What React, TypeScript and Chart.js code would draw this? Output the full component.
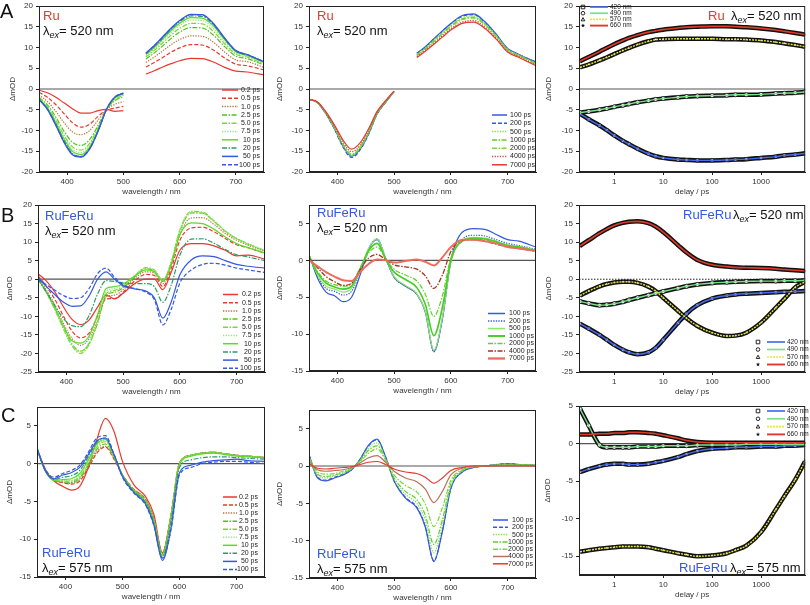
import React, { useEffect, useRef } from 'react';
import { Chart, registerables } from 'chart.js';
Chart.register(...registerables);

const FONT = '"Liberation Sans", Arial, sans-serif';

// ---------- shared axes ----------
const WL = [350, 365, 380, 395, 410, 425, 440, 455, 470, 485, 500, 520, 540, 555, 570, 585, 600, 620, 640, 660, 680, 700, 720, 750];
const DELAYS = [0.2, 0.3, 0.5, 0.7, 1, 1.5, 2, 3, 5, 7, 10, 20, 30, 50, 100, 200, 300, 500, 1000, 2000, 3000, 5000, 7900];
const WL_TICKS = [400, 500, 600, 700];
const DELAY_TICKS = [1, 10, 100, 1000];
const Y_TICKS_20 = [-20, -15, -10, -5, 0, 5, 10, 15, 20];
const Y_TICKS_25 = [-25, -20, -15, -10, -5, 0, 5, 10, 15, 20];
const Y_TICKS_15 = [-15, -10, -5, 0, 5];
const EARLY_LABELS = ['0.2 ps', '0.5 ps', '1.0 ps', '2.5 ps', '5.0 ps', '7.5 ps', '10 ps', '20 ps', '50 ps', '100 ps'];
const LATE_LABELS = ['100 ps', '200 ps', '500 ps', '1000 ps', '2000 ps', '4000 ps', '7000 ps'];
const KIN_LABELS = ['420 nm', '490 nm', '570 nm', '660 nm'];

// ---------- A1: Ru, early times ----------
const A1_0p2 = [-0.3, -0.9, -2, -3.4, -4.8, -5.8, -5.8, -5.2, -4.9, -5.4, -5.2, null, 3.6, 4.4, 5.3, 6.1, 6.8, 7.4, 7.3, 6.5, 5.2, 4.3, 4.1, 3.4];
const A1_0p5 = [-0.8, -2, -3.8, -6, -8.2, -9.2, -8.5, -6.6, -5.1, -4.6, -4.2, null, 5.3, 6.4, 7.6, 8.9, 9.9, 10.7, 10.6, 9.4, 7.5, 6, 5.6, 4.6];
const A1_1p0 = [-1.4, -3, -5.4, -8.2, -10.4, -11, -10, -7.5, -5, -3.7, -3, null, 6.4, 7.7, 9.2, 10.7, 11.9, 12.8, 12.7, 11.3, 8.9, 7, 6.6, 5.2];
const A1_2p5 = [-2, -3.8, -6.8, -10.3, -12.9, -13.6, -12.2, -8.8, -5, -2.8, -1.8, null, 7.2, 8.7, 10.4, 12.2, 13.7, 14.8, 14.7, 13, 10.2, 7.9, 7.3, 5.8];
const A1_5p0 = [-2.2, -4.2, -7.5, -11.3, -14, -14.7, -13.1, -9.3, -5, -2.5, -1.5, null, 7.7, 9.3, 11.1, 13, 14.6, 15.8, 15.7, 13.9, 10.9, 8.4, 7.7, 6];
const A1_7p5 = [-2.3, -4.4, -7.9, -11.8, -14.6, -15.3, -13.6, -9.6, -5, -2.3, -1.3, null, 8, 9.7, 11.6, 13.6, 15.3, 16.6, 16.5, 14.6, 11.4, 8.7, 8, 6.2];
const A1_10 = [-2.4, -4.6, -8.2, -12.2, -15.1, -15.8, -14, -9.9, -5, -2.1, -1.2, null, 8.3, 10, 12, 14.1, 15.8, 17.2, 17.1, 15.2, 11.9, 9, 8.1, 6.4];
const A1_20 = [-2.5, -4.8, -8.5, -12.6, -15.6, -16.2, -14.3, -10.1, -5, -2, -1.1, null, 8.5, 10.3, 12.3, 14.4, 16.2, 17.6, 17.5, 15.5, 12.1, 9.1, 8.2, 6.5];
const A1_50 = [-2.5, -4.9, -8.8, -13, -15.9, -16.4, -14.5, -10.2, -4.9, -1.9, -1, null, 8.7, 10.5, 12.6, 14.7, 16.5, 18, 17.9, 15.8, 12.3, 9.3, 8.3, 6.6];
const A1_100 = [-2.5, -4.9, -8.7, -12.9, -15.8, -16.3, -14.4, -10.1, -4.9, -1.9, -1, null, 8.6, 10.4, 12.5, 14.6, 16.4, 17.9, 17.8, 15.7, 12.2, 9.2, 8.3, 6.6];

// ---------- A2: Ru, late times ----------
const A2_100 = [-2.5, -3.3, -6, -9.6, -13.8, -16.2, -14.5, -10.8, -6, -3.2, -0.6, null, 8.6, 10.2, 12.1, 14, 15.8, 17.7, 18.1, 16.2, 13.2, 9.8, 8.3, 6.5];
const A2_200 = [-2.5, -3.3, -6, -9.7, -14, -16.5, -14.7, -10.9, -6, -3.2, -0.6, null, 8.6, 10.1, 12, 13.9, 15.7, 17.5, 17.9, 16, 13, 9.7, 8.3, 6.4];
const A2_500 = [-2.5, -3.3, -5.9, -9.5, -13.6, -16, -14.3, -10.6, -5.9, -3.1, -0.6, null, 8.4, 9.9, 11.8, 13.6, 15.4, 17.2, 17.6, 15.8, 12.9, 9.6, 8.2, 6.3];
const A2_1000 = [-2.5, -3.3, -5.9, -9.4, -13.5, -15.9, -14.2, -10.5, -5.8, -3.1, -0.6, null, 8.2, 9.7, 11.6, 13.4, 15.2, 16.9, 17.3, 15.6, 12.7, 9.5, 8.1, 6.2];
const A2_2000 = [-2.5, -3.2, -5.8, -9.3, -13.3, -15.7, -14, -10.4, -5.8, -3, -0.6, null, 8.1, 9.6, 11.4, 13.2, 15, 16.7, 17.1, 15.4, 12.6, 9.4, 8, 6.1];
const A2_4000 = [-2.5, -3.2, -5.7, -9, -12.8, -15.1, -13.6, -10, -5.6, -2.9, -0.5, null, 7.8, 9.3, 11, 12.8, 14.5, 16.1, 16.5, 14.9, 12.2, 9.1, 7.8, 5.8];
const A2_7000 = [-2.5, -3.1, -5.5, -8.7, -12.3, -14.5, -13, -9.6, -5.4, -2.8, -0.5, null, 7.6, 9.1, 10.8, 12.5, 14.2, 15.8, 16.1, 14.6, 12, 8.9, 7.6, 5.6];

// ---------- A3: Ru kinetics ----------
const A3_420 = [-6, -7.3, -8.8, -9.9, -11.2, -12.5, -13.3, -14.4, -15.6, -16.2, -16.6, -17, -17.1, -17.2, -17.2, -17.1, -17, -16.9, -16.6, -16.3, -16, -15.8, -15.5];
const A3_490 = [-5.7, -5.4, -5, -4.7, -4.3, -3.9, -3.6, -3.2, -2.8, -2.5, -2.3, -2, -1.8, -1.7, -1.6, -1.5, -1.4, -1.4, -1.3, -1.1, -1, -0.9, -0.7];
const A3_570 = [5.2, 5.9, 6.9, 7.6, 8.4, 9.3, 9.9, 10.7, 11.5, 11.9, 12, 12.1, 12.1, 12.1, 12.1, 12, 12, 11.9, 11.7, 11.3, 11, 10.6, 10.2];
const A3_660 = [6.7, 7.7, 9, 9.9, 10.8, 11.7, 12.3, 13, 13.7, 14, 14.3, 14.7, 14.9, 15, 15.1, 15.1, 15, 14.9, 14.6, 14.2, 13.9, 13.5, 13.1];

// ---------- B1: RuFeRu 520 nm, early ----------
const B1_0p2 = [1.5, -0.5, -3.5, -7.5, -10.8, -12.2, -11, -7.5, -4.3, -5.3, -3.8, -1.2, 0, 0, -2.8, 2, 7.8, 9.6, 9.6, 9, 7.8, 6.3, 6.5, 5.4];
const B1_0p5 = [1, -2, -5.5, -10, -14, -15.8, -14.5, -10, -5.3, -5.2, -3.5, -0.5, 1.3, 1, -2, 3, 10.5, 13.8, 14, 12.8, 11, 9.3, 8.5, 7];
const B1_1p0 = [0.5, -3, -7, -12, -16, -17.8, -16, -11, -4.8, -4.3, -2.8, 0.2, 2, 1.6, -1.2, 4, 12, 16.5, 16.6, 14.8, 12.3, 10.5, 9.2, 7.5];
const B1_2p5 = [0.3, -3.5, -8, -13, -17.5, -19.4, -17.3, -11.8, -4.3, -3.5, -2.3, 0.6, 2.8, 2.2, -0.6, 4.6, 13, 17.9, 17.8, 15.6, 12.9, 10.9, 9.5, 7.6];
const B1_5p0 = [0.2, -3.7, -8.3, -13.5, -18, -20, -17.6, -11.6, -3.9, -3, -1.9, 0.9, 3.1, 2.5, -0.3, 4.8, 13.3, 18.3, 18.1, 15.8, 13, 11, 9.6, 7.7];
const B1_7p5 = [0.2, -3.6, -8.1, -13.2, -17.6, -19.5, -17, -11, -3.3, -2.5, -1.5, 1, 3, 2.4, -0.2, 4.6, 13, 18, 17.8, 15.6, 12.9, 10.9, 9.5, 7.7];
const B1_10 = [0.1, -3.5, -7.8, -12.6, -16.6, -17.2, -15.3, -9.5, -2.5, -2, -1.3, 0.8, 2.5, 2, -0.5, 4, 12, 15.2, 15, 13.5, 11.4, 9.6, 8.5, 7];
const B1_20 = [0, -3.5, -7.2, -10.6, -12.5, -12.8, -9.8, -4, -0.4, -0.6, -1, -1.2, -1.2, -2, -6.2, -1.5, 6.5, 10.8, 10.9, 9.7, 8, 6.6, 6, 5];
const B1_50 = [0.5, -2, -4.2, -6.2, -7.3, -7.2, -4.5, 0, 2, 0, -1.8, -2.6, -3.2, -5, -10.5, -6, 1.2, 5.2, 6.3, 6.1, 5, 4, 3.5, 3];
const B1_100 = [0, -1.5, -3, -4.4, -5.2, -5, -2.5, 1.5, 3, 0.5, -1.5, -2.5, -3.5, -5.5, -12.3, -8, -1, 2.5, 4, 4.3, 3.8, 3, 2.5, 1.8];

// ---------- B2: RuFeRu 520 nm, late ----------
const B2_100 = [0.8, -2.4, -4.3, -4.8, -5.6, -5, -2, 1.5, 2.8, 0.3, -2.3, -3.5, -4.6, -7, -12.3, -8, 0, 3.8, 4.3, 4.2, 3.5, 2.8, 2.6, 1.8];
const B2_200 = [0.8, -2.2, -3.8, -4.2, -4.7, -4.2, -1.6, 1.6, 2.9, 0.3, -2.3, -3.5, -4.6, -7, -12.4, -7.9, -0.2, 2.8, 3.4, 3.3, 2.8, 2.3, 2, 1.5];
const B2_500 = [0.8, -2, -3.5, -3.9, -4.3, -3.8, -1.4, 1.6, 2.9, 0.3, -2.2, -3.4, -4.5, -6.9, -12.2, -7.8, -0.2, 2.7, 3.1, 3, 2.6, 2.1, 1.9, 1.4];
const B2_1000 = [0.6, -1.7, -3.1, -3.6, -3.9, -3.5, -1.2, 1.3, 2.3, 0.2, -1.6, -2.6, -3.7, -6, -10.2, -6.4, 0, 2.6, 3, 2.9, 2.5, 2, 1.8, 1.3];
const B2_2000 = [0.5, -1.5, -2.8, -3.3, -3.5, -3.2, -1, 1, 1.8, 0.2, -1.2, -2, -2.8, -4.6, -7.6, -4.8, 0.3, 2.6, 2.9, 2.8, 2.4, 1.9, 1.7, 1.3];
const B2_4000 = [0.3, -1, -2.2, -2.9, -3.4, -3.1, -1.3, 0.3, 0.8, 0.1, -0.6, -0.9, -1.2, -2.1, -3.8, -2, 1.2, 2.7, 2.8, 2.6, 2.2, 1.8, 1.6, 1.2];
const B2_7000 = [0, -0.8, -1.6, -2.2, -2.7, -2.8, -1.6, -0.5, 0.1, 0, -0.3, -0.1, 0.1, -0.2, -0.7, 0.4, 1.8, 2.8, 2.8, 2.6, 2.3, 1.8, 1.6, 1.3];

// ---------- B3: RuFeRu 520 nm kinetics ----------
const B3_420 = [-12, -13.3, -15, -16.3, -17.7, -19, -19.7, -20.2, -19.7, -18.5, -16.3, -11.8, -9.3, -7, -5.2, -4.4, -4.1, -3.9, -3.7, -3.5, -3.4, -3.3, -3.2];
const B3_490 = [-6, -6.5, -7, -6.9, -6.6, -6.1, -5.6, -5, -4.3, -3.8, -3.3, -2.4, -1.9, -1.4, -1, -0.8, -0.7, -0.6, -0.5, -0.5, -0.4, -0.4, -0.3];
const B3_570 = [-4.4, -3.2, -1.9, -1.3, -0.9, -0.7, -0.7, -1, -2, -3.2, -5, -8.5, -10.5, -12.6, -14.4, -15.3, -15.2, -14.4, -11.7, -7.7, -5.3, -2.2, -0.7];
const B3_660 = [9, 10.5, 12.4, 13.5, 14.5, 15.2, 15.5, 15.6, 15.1, 14.2, 12.7, 9.2, 7.2, 5.2, 3.9, 3.4, 3.2, 3.1, 3, 2.8, 2.6, 2.4, 2.2];

// ---------- C1: RuFeRu 575 nm, early ----------
const C1_0p2 = [2, -0.8, -2.3, -3, -3.5, -3, -0.5, 3.2, 6, 4.3, 0.3, -2.8, -4.3, -6.7, -11.8, -7, 0, 1.1, 1.4, 1.5, 1.3, 1.1, 1, 0.8];
const C1_0p5 = [2, -1, -2.2, -2.5, -2.7, -2.3, -0.6, 1.4, 2.2, 0.6, -1.5, -3.4, -4.7, -7.3, -11.8, -6.8, 0.1, 1.1, 1.4, 1.5, 1.3, 1.1, 1, 0.8];
const C1_1p0 = [2, -1, -2.2, -2.5, -2.6, -2.1, -0.4, 1.6, 2.3, 0.7, -1.5, -3.4, -4.7, -7.3, -11.9, -6.9, 0.1, 1.1, 1.4, 1.5, 1.3, 1.1, 1, 0.8];
const C1_2p5 = [2, -1, -2.2, -2.4, -2.5, -1.9, -0.2, 1.9, 2.6, 0.8, -1.5, -3.5, -4.8, -7.4, -12, -7, 0, 1.1, 1.4, 1.5, 1.3, 1.1, 1, 0.8];
const C1_5p0 = [2, -1, -2.2, -2.3, -2.3, -1.7, 0.1, 2.2, 2.9, 1, -1.5, -3.5, -4.9, -7.5, -12, -7.1, 0, 1.1, 1.4, 1.5, 1.3, 1.1, 1, 0.8];
const C1_7p5 = [2, -1, -2.2, -2.2, -2.2, -1.5, 0.3, 2.4, 3.1, 1.1, -1.5, -3.6, -5, -7.6, -12.1, -7.2, 0, 1.1, 1.4, 1.4, 1.3, 1.1, 1, 0.8];
const C1_10 = [2, -1, -2.2, -2.1, -2, -1.3, 0.5, 2.6, 3.2, 1.1, -1.5, -3.6, -5, -7.7, -12.2, -7.3, -0.1, 1, 1.3, 1.4, 1.2, 1, 0.9, 0.8];
const C1_20 = [2, -1, -2.1, -1.8, -1.6, -0.9, 0.9, 2.8, 3.4, 1.2, -1.6, -3.7, -5.1, -7.8, -12.4, -7.8, -0.5, 0.5, 0.8, 0.9, 0.9, 0.8, 0.7, 0.6];
const C1_50 = [2, -1, -2, -1.5, -1.2, -0.5, 1.2, 3, 3.4, 1.2, -1.7, -3.8, -5.3, -8.1, -12.8, -8.6, -1.2, -0.2, 0.2, 0.4, 0.5, 0.6, 0.4, 0.3];
const C1_100 = [2, -0.8, -1.8, -1.3, -0.9, -0.2, 1.5, 3.4, 3.7, 1.3, -1.8, -3.9, -5.4, -8.2, -12.5, -8.8, -1.5, -0.5, 0, 0.2, 0.3, 0.3, 0.2, 0];

// ---------- C2: RuFeRu 575 nm, late ----------
const C2_100 = [1.5, -1.6, -2, -1.6, -1.2, -0.5, 0.9, 2.8, 3.6, 1.2, -2, -4.3, -5.6, -8.2, -12.8, -8.8, -3, -0.8, -0.2, 0, 0.2, 0.3, 0.2, 0.1];
const C2_200 = [1.5, -1.5, -1.9, -1.5, -1.1, -0.5, 0.9, 2.7, 3.5, 1.2, -2, -4.2, -5.5, -8.1, -12.7, -8.7, -3, -0.8, -0.2, 0, 0.2, 0.3, 0.2, 0.1];
const C2_500 = [1.3, -1.3, -1.6, -1.3, -1, -0.4, 0.8, 2.4, 3.1, 1, -1.8, -3.8, -5, -7.3, -11.6, -7.9, -2.7, -0.7, -0.1, 0, 0.2, 0.2, 0.2, 0.1];
const C2_1000 = [1.2, -1.1, -1.4, -1.2, -0.9, -0.4, 0.7, 2.1, 2.7, 0.9, -1.6, -3.4, -4.5, -6.6, -10.5, -7.2, -2.4, -0.6, -0.1, 0, 0.1, 0.2, 0.2, 0.1];
const C2_2000 = [1, -0.8, -1.1, -1, -0.7, -0.3, 0.6, 1.7, 2.3, 0.8, -1.2, -2.6, -3.5, -5.1, -8.1, -5.6, -1.9, -0.5, -0.1, 0, 0.1, 0.1, 0.1, 0.1];
const C2_4000 = [0.6, -0.5, -0.7, -0.6, -0.5, -0.2, 0.4, 1.1, 1.4, 0.5, -0.7, -1.6, -2.1, -3.1, -4.9, -3.4, -1.2, -0.3, 0, 0, 0.1, 0.1, 0.1, 0];
const C2_7000 = [0.3, -0.3, -0.4, -0.3, -0.2, -0.1, 0.2, 0.5, 0.6, 0.2, -0.4, -0.8, -1, -1.5, -2.3, -1.6, -0.6, -0.2, 0, 0, 0, 0, 0, 0];

// ---------- C3: RuFeRu 575 nm kinetics ----------
const C3_420 = [-3.8, -3.4, -3, -2.8, -2.7, -2.7, -2.8, -2.8, -2.7, -2.5, -2.3, -1.8, -1.4, -1, -0.7, -0.6, -0.5, -0.5, -0.4, -0.4, -0.3, -0.3, -0.2];
const C3_490 = [4.6, 2.4, -0.2, -0.5, -0.5, -0.5, -0.5, -0.4, -0.4, -0.4, -0.3, -0.3, -0.3, -0.2, -0.2, -0.2, -0.2, -0.1, -0.1, -0.1, -0.1, -0.1, -0.1];
const C3_570 = [-14.4, -14.2, -14, -13.9, -13.8, -13.7, -13.7, -13.7, -13.8, -14, -14.2, -14.6, -14.8, -15, -14.9, -14.6, -14.2, -13.6, -11.8, -8.8, -7, -4.8, -2.4];
const C3_660 = [1.2, 1.2, 1.3, 1.3, 1.4, 1.4, 1.5, 1.5, 1.4, 1.3, 1.1, 0.7, 0.4, 0.2, 0.1, 0.1, 0.1, 0.1, 0.1, 0.1, 0.1, 0.1, 0.1];

// ---------- styles ----------
type Sty = { color: string; dash: number[]; width: number };
const SOLID: number[] = [];
const DASH = [4, 2];
const DOT = [1.3, 1.3];
const DASHDOT = [5, 1.5, 1.5, 1.5];
const RED = '#e8392f';
const BROWN = '#b8733a';
const BLUE = '#3458e0';
const TEAL = '#2e9a6a';
const EARLY_STY: Sty[] = [
  { color: RED, dash: SOLID, width: 1.2 },
  { color: RED, dash: DASH, width: 1.2 },
  { color: BROWN, dash: DOT, width: 1.2 },
  { color: '#52c020', dash: DASHDOT, width: 1.2 },
  { color: '#7ad63a', dash: DASHDOT, width: 1.2 },
  { color: '#9be870', dash: DOT, width: 1.2 },
  { color: '#5fd82c', dash: SOLID, width: 1.2 },
  { color: TEAL, dash: DASHDOT, width: 1.2 },
  { color: BLUE, dash: SOLID, width: 1.2 },
  { color: BLUE, dash: DASH, width: 1.2 },
];
const LATE_STY_A: Sty[] = [
  { color: BLUE, dash: SOLID, width: 1.2 },
  { color: BLUE, dash: DASH, width: 1.2 },
  { color: '#7fe04a', dash: DOT, width: 1.2 },
  { color: '#5fd02a', dash: DASHDOT, width: 1.2 },
  { color: '#78d83a', dash: DASHDOT, width: 1.2 },
  { color: '#c8584a', dash: DOT, width: 1.4 },
  { color: RED, dash: SOLID, width: 1.2 },
];
const LATE_STY_B: Sty[] = [
  { color: BLUE, dash: SOLID, width: 1.2 },
  { color: BLUE, dash: DOT, width: 1.2 },
  { color: '#90e46a', dash: SOLID, width: 1.2 },
  { color: '#44cc22', dash: SOLID, width: 1.6 },
  { color: '#5fd02a', dash: DASHDOT, width: 1.2 },
  { color: '#a8321e', dash: DASHDOT, width: 1.3 },
  { color: '#ee6b5e', dash: SOLID, width: 2 },
];
const LATE_STY_C: Sty[] = [
  { color: BLUE, dash: SOLID, width: 1.2 },
  { color: BLUE, dash: DASH, width: 1.2 },
  { color: '#7fe04a', dash: DOT, width: 1.2 },
  { color: '#5fd02a', dash: DASHDOT, width: 1.2 },
  { color: '#78d83a', dash: DASHDOT, width: 1.2 },
  { color: '#b9705a', dash: SOLID, width: 1.2 },
  { color: RED, dash: SOLID, width: 1.2 },
];
const KIN_STY: Sty[] = [
  { color: '#4a6cf0', dash: SOLID, width: 1.4 },
  { color: '#7be08a', dash: SOLID, width: 1.4 },
  { color: '#e8e83a', dash: [2, 1], width: 1.4 },
  { color: '#e03a2a', dash: SOLID, width: 1.6 },
];
const KIN_MARKERS = ['rect', 'circle', 'triangle', 'star'];

// ---------- panel layout ----------
type Rect = { l: number; t: number; r: number; b: number };
interface LegendCfg { x1: number; x2: number; tx: number; align: 'left' | 'right'; y0: number; dy: number; size: number; sym?: number }
interface Panel {
  kind: 'spec' | 'kin';
  col: number;
  plot: Rect;
  yMin: number; yMax: number; yTicks: number[];
  yTitleX: number;
  series: (number | null)[][];
  labels: string[];
  styles: Sty[];
  zero: { color: string; dash: number[]; width: number };
  legend: LegendCfg;
  name: { text: string; color: string; x: number; y: number };
  lambda: { text: string; x: number; y: number };
  letter?: { text: string; x: number; y: number };
}
const ZERO_GRAY = { color: '#555', dash: [] as number[], width: 1.2 };

const PANELS: Panel[] = [
  {
    kind: 'spec', col: 0, plot: { l: 39, t: 6, r: 264, b: 172 }, yMin: -20, yMax: 20, yTicks: Y_TICKS_20, yTitleX: 13,
    series: [A1_0p2, A1_0p5, A1_1p0, A1_2p5, A1_5p0, A1_7p5, A1_10, A1_20, A1_50, A1_100], labels: EARLY_LABELS, styles: EARLY_STY,
    zero: ZERO_GRAY, legend: { x1: 222, x2: 238, tx: 260, align: 'right', y0: 90, dy: 8.3, size: 7 },
    name: { text: 'Ru', color: RED, x: 43, y: 20 }, lambda: { text: '= 520 nm', x: 43, y: 35 }, letter: { text: 'A', x: 0, y: 18 },
  },
  {
    kind: 'spec', col: 1, plot: { l: 309, t: 6, r: 536, b: 172 }, yMin: -20, yMax: 20, yTicks: Y_TICKS_20, yTitleX: 280,
    series: [A2_100, A2_200, A2_500, A2_1000, A2_2000, A2_4000, A2_7000], labels: LATE_LABELS, styles: LATE_STY_A,
    zero: ZERO_GRAY, legend: { x1: 492, x2: 507, tx: 510, align: 'left', y0: 115, dy: 8.3, size: 7 },
    name: { text: 'Ru', color: RED, x: 317, y: 20 }, lambda: { text: '= 520 nm', x: 317, y: 35 },
  },
  {
    kind: 'kin', col: 2, plot: { l: 579, t: 6, r: 806, b: 172 }, yMin: -20, yMax: 20, yTicks: Y_TICKS_20, yTitleX: 549,
    series: [A3_420, A3_490, A3_570, A3_660], labels: KIN_LABELS, styles: KIN_STY,
    zero: ZERO_GRAY, legend: { x1: 590, x2: 608, tx: 610, align: 'left', y0: 7, dy: 6.2, size: 6.5, sym: 583 },
    name: { text: 'Ru', color: RED, x: 708, y: 20 }, lambda: { text: '= 520 nm', x: 731, y: 20 },
  },
  {
    kind: 'spec', col: 0, plot: { l: 38, t: 205, r: 265, b: 372 }, yMin: -25, yMax: 20, yTicks: Y_TICKS_25, yTitleX: 10,
    series: [B1_0p2, B1_0p5, B1_1p0, B1_2p5, B1_5p0, B1_7p5, B1_10, B1_20, B1_50, B1_100], labels: EARLY_LABELS, styles: EARLY_STY,
    zero: ZERO_GRAY, legend: { x1: 223, x2: 238, tx: 261, align: 'right', y0: 294.5, dy: 8.2, size: 7 },
    name: { text: 'RuFeRu', color: BLUE, x: 45, y: 220 }, lambda: { text: '= 520 nm', x: 45, y: 235 }, letter: { text: 'B', x: 1, y: 222 },
  },
  {
    kind: 'spec', col: 1, plot: { l: 309, t: 205, r: 536, b: 371 }, yMin: -15, yMax: 7.5, yTicks: Y_TICKS_15, yTitleX: 280,
    series: [B2_100, B2_200, B2_500, B2_1000, B2_2000, B2_4000, B2_7000], labels: LATE_LABELS, styles: LATE_STY_B,
    zero: ZERO_GRAY, legend: { x1: 488, x2: 505, tx: 509, align: 'left', y0: 313.5, dy: 7.5, size: 7 },
    name: { text: 'RuFeRu', color: BLUE, x: 317, y: 217 }, lambda: { text: '= 520 nm', x: 317, y: 232 },
  },
  {
    kind: 'kin', col: 2, plot: { l: 579, t: 205, r: 806, b: 372 }, yMin: -25, yMax: 20, yTicks: Y_TICKS_25, yTitleX: 549,
    series: [B3_420, B3_490, B3_570, B3_660], labels: KIN_LABELS, styles: KIN_STY,
    zero: { color: '#222', dash: [1.5, 1.5], width: 1 }, legend: { x1: 767, x2: 785, tx: 787, align: 'left', y0: 342, dy: 7.5, size: 6.5, sym: 758 },
    name: { text: 'RuFeRu', color: BLUE, x: 683, y: 219 }, lambda: { text: '= 520 nm', x: 733, y: 219 },
  },
  {
    kind: 'spec', col: 0, plot: { l: 37, t: 407, r: 265, b: 577 }, yMin: -15, yMax: 7.5, yTicks: Y_TICKS_15, yTitleX: 10,
    series: [C1_0p2, C1_0p5, C1_1p0, C1_2p5, C1_5p0, C1_7p5, C1_10, C1_20, C1_50, C1_100], labels: EARLY_LABELS, styles: EARLY_STY,
    zero: ZERO_GRAY, legend: { x1: 223, x2: 237, tx: 258, align: 'right', y0: 497, dy: 8.05, size: 7 },
    name: { text: 'RuFeRu', color: BLUE, x: 42, y: 557 }, lambda: { text: '= 575 nm', x: 42, y: 572 }, letter: { text: 'C', x: 1, y: 422 },
  },
  {
    kind: 'spec', col: 1, plot: { l: 309, t: 410, r: 536, b: 578 }, yMin: -15, yMax: 7.5, yTicks: Y_TICKS_15, yTitleX: 280,
    series: [C2_100, C2_200, C2_500, C2_1000, C2_2000, C2_4000, C2_7000], labels: LATE_LABELS, styles: LATE_STY_C,
    zero: ZERO_GRAY, legend: { x1: 493, x2: 508, tx: 533, align: 'right', y0: 520, dy: 7.3, size: 7 },
    name: { text: 'RuFeRu', color: BLUE, x: 317, y: 558 }, lambda: { text: '= 575 nm', x: 317, y: 573 },
  },
  {
    kind: 'kin', col: 2, plot: { l: 579, t: 406, r: 806, b: 575 }, yMin: -17.5, yMax: 5, yTicks: Y_TICKS_15, yTitleX: 548,
    series: [C3_420, C3_490, C3_570, C3_660], labels: KIN_LABELS, styles: KIN_STY,
    zero: ZERO_GRAY, legend: { x1: 767, x2: 785, tx: 787, align: 'left', y0: 411, dy: 7.8, size: 6.5, sym: 758 },
    name: { text: 'RuFeRu', color: BLUE, x: 679, y: 572 }, lambda: { text: '= 575 nm', x: 730, y: 572 },
  },
];

const PAD_TOP = 10;
const PAD_R = 4;
const X_AXIS_H = 28;

function canvasRect(p: Panel) {
  const left = p.col * 270;
  const top = p.plot.t - PAD_TOP;
  return { left, top, width: p.plot.r + PAD_R - left, height: p.plot.b + X_AXIS_H - top };
}

function drawMarker(ctx: CanvasRenderingContext2D, kind: string, x: number, y: number, r: number) {
  ctx.beginPath();
  if (kind === 'rect') ctx.rect(x - r, y - r, 2 * r, 2 * r);
  else if (kind === 'circle') ctx.arc(x, y, r, 0, Math.PI * 2);
  else if (kind === 'triangle') { ctx.moveTo(x, y - r); ctx.lineTo(x + r, y + r * 0.8); ctx.lineTo(x - r, y + r * 0.8); ctx.closePath(); }
  else {
    for (let k = 0; k < 10; k++) {
      const a = -Math.PI / 2 + (k * Math.PI) / 5;
      const rr = k % 2 === 0 ? r * 1.2 : r * 0.5;
      if (k === 0) ctx.moveTo(x + rr * Math.cos(a), y + rr * Math.sin(a)); else ctx.lineTo(x + rr * Math.cos(a), y + rr * Math.sin(a));
    }
    ctx.closePath();
    ctx.fillStyle = '#111'; ctx.fill(); return;
  }
  ctx.stroke();
}

function makeDeco(p: Panel, ox: number, oy: number) {
  return {
    id: 'deco',
    beforeDatasetsDraw(chart: any) {
      const { ctx, chartArea: a, scales } = chart;
      const y0 = scales.y.getPixelForValue(0);
      ctx.save();
      ctx.strokeStyle = p.zero.color; ctx.lineWidth = p.zero.width; ctx.setLineDash(p.zero.dash);
      ctx.beginPath(); ctx.moveTo(a.left, y0); ctx.lineTo(a.right, y0); ctx.stroke();
      ctx.restore();
    },
    afterDatasetsDraw(chart: any) {
      const { ctx, chartArea: a } = chart;
      ctx.save();
      ctx.strokeStyle = '#222'; ctx.lineWidth = 1; ctx.setLineDash([]);
      ctx.strokeRect(a.left + 0.5, a.top + 0.5, a.right - a.left - 1, a.bottom - a.top - 1);
      // legend
      const lg = p.legend;
      p.labels.forEach((lab, i) => {
        const y = lg.y0 + i * lg.dy - oy;
        const s = p.styles[i];
        ctx.strokeStyle = s.color; ctx.lineWidth = s.width + 0.3; ctx.setLineDash(s.dash);
        ctx.beginPath(); ctx.moveTo(lg.x1 - ox, y); ctx.lineTo(lg.x2 - ox, y); ctx.stroke();
        ctx.setLineDash([]);
        if (lg.sym !== undefined) {
          ctx.strokeStyle = '#111'; ctx.lineWidth = 0.9;
          drawMarker(ctx, KIN_MARKERS[i], lg.sym - ox, y, 1.8);
        }
        ctx.fillStyle = '#222'; ctx.font = `${lg.size}px ${FONT}`; ctx.textAlign = lg.align; ctx.textBaseline = 'middle';
        ctx.fillText(lab, lg.tx - ox, y);
      });
      // titles
      ctx.textAlign = 'left'; ctx.textBaseline = 'alphabetic';
      ctx.fillStyle = p.name.color; ctx.font = `13px ${FONT}`;
      ctx.fillText(p.name.text, p.name.x - ox, p.name.y - oy);
      const lx = p.lambda.x - ox, ly = p.lambda.y - oy;
      ctx.fillStyle = '#111'; ctx.font = `13px ${FONT}`;
      ctx.fillText('λ', lx, ly);
      let w = ctx.measureText('λ').width;
      ctx.font = `italic 9px ${FONT}`;
      ctx.fillText('ex', lx + w, ly + 2.5);
      w += ctx.measureText('ex').width;
      ctx.font = `13px ${FONT}`;
      ctx.fillText(p.lambda.text, lx + w, ly);
      if (p.letter) {
        ctx.font = `20px ${FONT}`; ctx.fillStyle = '#111';
        ctx.fillText(p.letter.text, p.letter.x - ox, p.letter.y - oy);
      }
      ctx.restore();
    },
  };
}

function buildConfig(p: Panel, cr: { left: number; top: number; width: number; height: number }): any {
  const kin = p.kind === 'kin';
  const xs = kin ? DELAYS : WL;
  const datasets: any[] = [];
  p.series.forEach((arr, i) => {
    const pts = xs.map((x, j) => ({ x, y: arr[j] }));
    const s = p.styles[i];
    if (kin) {
      datasets.push({
        data: pts, borderColor: '#111', borderWidth: 4.5, pointRadius: 2, pointStyle: KIN_MARKERS[i],
        pointBackgroundColor: '#fff', pointBorderColor: '#111', pointBorderWidth: 0.8,
        cubicInterpolationMode: 'monotone', order: 10,
      });
      datasets.push({
        data: pts, borderColor: s.color, borderDash: s.dash, borderWidth: s.width, pointRadius: 0,
        cubicInterpolationMode: 'monotone', order: -i,
      });
    } else {
      datasets.push({
        data: pts, borderColor: s.color, borderDash: s.dash, borderWidth: s.width, pointRadius: 0,
        cubicInterpolationMode: 'monotone', spanGaps: false, order: -i,
      });
    }
  });
  const yW = p.plot.l - cr.left;
  const tickFont = { family: FONT, size: 8 };
  const titleFont = { family: FONT, size: 8 };
  return {
    type: 'line',
    data: { datasets },
    options: {
      animation: false, responsive: false, maintainAspectRatio: false, devicePixelRatio: 1,
      layout: { padding: { top: PAD_TOP, right: PAD_R, left: 0, bottom: 0 } },
      plugins: { legend: { display: false }, tooltip: { enabled: false } },
      scales: {
        x: {
          type: kin ? 'logarithmic' : 'linear',
          min: kin ? 0.19 : 350, max: kin ? 8000 : 750,
          afterBuildTicks: (sc: any) => { sc.ticks = (kin ? DELAY_TICKS : WL_TICKS).map((v) => ({ value: v })); },
          afterFit: (sc: any) => { sc.height = X_AXIS_H; },
          grid: { drawOnChartArea: false, drawTicks: true, tickLength: 3, color: '#222' },
          border: { display: true, color: '#222' },
          ticks: { font: tickFont, color: '#333', padding: 2, maxRotation: 0, autoSkip: false, callback: (v: any) => String(v) },
          title: { display: true, text: kin ? 'delay / ps' : 'wavelength / nm', font: titleFont, color: '#333', padding: { top: 0, bottom: 3 } },
        },
        y: {
          type: 'linear', min: p.yMin, max: p.yMax,
          afterBuildTicks: (sc: any) => { sc.ticks = p.yTicks.map((v) => ({ value: v })); },
          afterFit: (sc: any) => { sc.width = yW; },
          grid: { drawOnChartArea: false, drawTicks: true, tickLength: 3, color: '#222' },
          border: { display: true, color: '#222' },
          ticks: { font: tickFont, color: '#333', padding: 3, callback: (v: any) => String(v) },
          title: { display: true, text: 'ΔmOD', font: titleFont, color: '#333', padding: { top: Math.max(0, p.yTitleX - cr.left - 4.8), bottom: 0 } },
        },
      },
    },
    plugins: [makeDeco(p, cr.left, cr.top)],
  };
}

function PanelChart({ p }: { p: Panel }) {
  const ref = useRef<HTMLCanvasElement>(null);
  const cr = canvasRect(p);
  useEffect(() => {
    const chart = new Chart(ref.current as HTMLCanvasElement, buildConfig(p, cr));
    return () => chart.destroy();
  }, []);
  return (
    <canvas
      ref={ref}
      width={cr.width}
      height={cr.height}
      style={{ position: 'absolute', left: cr.left, top: cr.top, width: cr.width, height: cr.height }}
    />
  );
}

export default function App() {
  return (
    <div style={{ position: 'fixed', left: 0, top: 0, width: 810, height: 605, background: '#fff', overflow: 'hidden' }}>
      {PANELS.map((p, i) => <PanelChart key={i} p={p} />)}
    </div>
  );
}
